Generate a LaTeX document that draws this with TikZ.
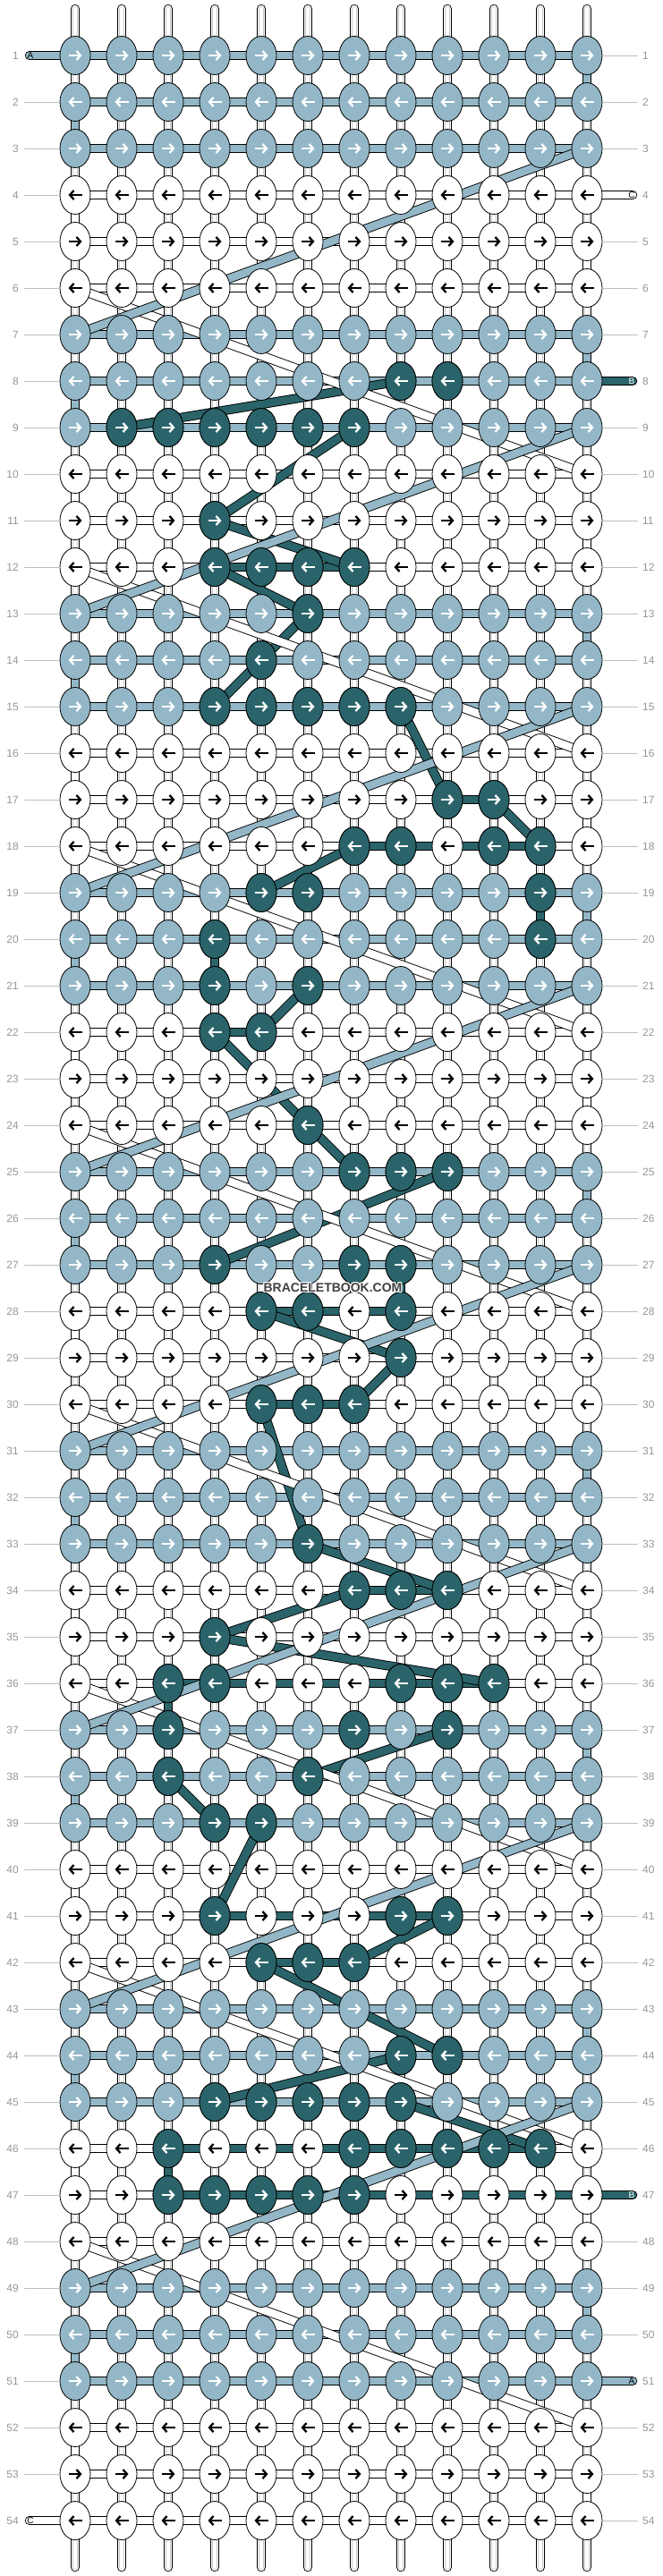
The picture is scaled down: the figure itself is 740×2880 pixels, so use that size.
\documentclass[tikz,border=0pt]{standalone}
\usepackage{fontspec}
\setsansfont{Liberation Sans}
\usetikzlibrary{shapes.geometric,arrows.meta}
\definecolor{threadA}{RGB}{147,183,199}
\definecolor{threadB}{RGB}{42,100,106}
\definecolor{numgray}{RGB}{150,150,150}
\definecolor{linegray}{RGB}{190,190,190}
\pgfdeclarelayer{tubes}
\pgfdeclarelayer{bars}
\pgfdeclarelayer{floats}
\pgfsetlayers{tubes,bars,floats,main}
\newcommand{\knotdir}[3]{%
  \pgfmathtruncatemacro\kd{mod(#1,2)}%
  \ifnum\kd=1
    \draw[knotarrow,#3] ([xshift=-7.5pt]k-#1-#2.center) -- ([xshift=7.5pt]k-#1-#2.center);
  \else
    \draw[knotarrow,#3] ([xshift=7.5pt]k-#1-#2.center) -- ([xshift=-7.5pt]k-#1-#2.center);
  \fi}

\begin{document}
\begin{tikzpicture}[x=1pt,y=-1pt,
  knot/.style={ellipse,draw=black,line width=0.8pt,minimum width=34pt,minimum height=43pt,inner sep=0pt},
  knotarrow/.style={line width=2.3pt,-{Straight Barb[length=4.5pt,width=10pt]}},
  thread/.style={line width=10.5pt,draw=black,postaction={draw=#1,line width=8.7pt}},
  tube/.style={line width=10.5pt,draw=black,line cap=round,postaction={draw=white,line width=8.7pt},postaction={draw=black!22,line width=5.6pt},postaction={draw=white,line width=4.2pt}},
  num/.style={font=\sffamily\fontsize{12}{12}\selectfont,text=numgray,inner sep=0pt},
  rowline/.style={draw=linegray,line width=0.9pt},
  tabtext/.style={font=\sffamily\fontsize{10}{10}\selectfont,inner sep=0pt},
  brand/.style={font=\sffamily\bfseries\fontsize{14}{14}\selectfont,inner sep=0pt}]
\useasboundingbox (0,0) rectangle (740,2880);

\foreach \r in {1,...,54}{
  \pgfmathtruncatemacro\blk{mod(div(\r-1,3),2)}
  \ifnum\blk=0 \def\kc{threadA}\def\ac{white}\else\def\kc{white}\def\ac{black}\fi
  \foreach \c in {1,...,12}{
    \node[knot,fill=\kc] (k-\r-\c) at ({84+52*(\c-1)},{62+52*(\r-1)}) {};
    \knotdir{\r}{\c}{\ac}
  }
  \node[num,anchor=east] (ln-\r) at (21,{62+52*(\r-1)}) {\r};
  \node[num,anchor=west] (rn-\r) at (718,{62+52*(\r-1)}) {\r};
}

\foreach \r/\cs in {8/{8,9},9/{2,3,4,5,6,7},11/{4},12/{4,5,6,7},13/{6},14/{5},15/{4,5,6,7,8},
    17/{9,10},18/{7,8,10,11},19/{5,6,11},20/{4,11},21/{4,6},22/{4,5},24/{6},25/{7,8,9},
    27/{4,7,8},28/{5,6,8},29/{8},30/{5,6,7},33/{6},34/{7,8,9},35/{4},36/{3,4,8,9,10},
    37/{3,7,9},38/{3,6},39/{4,5},41/{4,8,9},42/{5,6,7},44/{8,9},45/{4,5,6,7,8},
    46/{3,7,8,9,10,11},47/{3,4,5,6,7}}{
  \foreach \c in \cs{
    \node[knot,fill=threadB] (k-\r-\c) at (k-\r-\c.center) {};
    \knotdir{\r}{\c}{white}
  }
}

\foreach \r in {2,...,53}
  \draw[rowline] ([xshift=6pt]ln-\r.east) -- (k-\r-1.west);
\foreach \r in {1,2,3,5,6,7,9,10,...,46,48,49,50,52,53,54}
  \draw[rowline] (k-\r-12.east) -- ([xshift=-5pt]rn-\r.west);

\node[tabtext] (tab-a1) at (34,62) {A};
\node[tabtext] (tab-c4) at (706,218) {C};
\node[tabtext,text=white] (tab-b8) at (706,426) {B};
\node[tabtext,text=white] (tab-b47) at (706,2454) {B};
\node[tabtext] (tab-a51) at (706,2662) {A};
\node[tabtext] (tab-c54) at (34,2818) {C};
\coordinate (end-a1) at (33,62);
\coordinate (end-c4) at (707,218);
\coordinate (end-b8) at (707,426);
\coordinate (end-b47) at (707,2454);
\coordinate (end-a51) at (707,2662);
\coordinate (end-c54) at (33,2818);

\begin{pgfonlayer}{tubes}
\foreach \c in {1,...,12}{
  \coordinate (top-\c) at ({84+52*(\c-1)},10);
  \coordinate (bot-\c) at ({84+52*(\c-1)},2870);
  \draw[tube] (top-\c) -- (bot-\c);
}
\end{pgfonlayer}

\begin{pgfonlayer}{bars}
\foreach \r in {1,...,54}{
  \pgfmathtruncatemacro\blk{mod(div(\r-1,3),2)}
  \ifnum\blk=0 \def\kc{threadA}\else\def\kc{white}\fi
  \draw[thread=\kc] (k-\r-1.center) -- (k-\r-12.center);
}
\foreach \b in {0,...,8}{
  \pgfmathtruncatemacro\rowa{6*\b+1}
  \pgfmathtruncatemacro\rowb{6*\b+2}
  \pgfmathtruncatemacro\rowc{6*\b+3}
  \pgfmathtruncatemacro\rowd{6*\b+4}
  \pgfmathtruncatemacro\rowe{6*\b+5}
  \pgfmathtruncatemacro\rowf{6*\b+6}
  \draw[thread=threadA] (k-\rowa-12.center) -- (k-\rowb-12.center);
  \draw[thread=threadA] (k-\rowb-1.center) -- (k-\rowc-1.center);
  \draw[thread=white] (k-\rowd-1.center) -- (k-\rowe-1.center);
  \draw[thread=white] (k-\rowe-12.center) -- (k-\rowf-12.center);
}
\foreach \r/\ca/\cb in {12/4/7,17/9/10,18/7/11,22/4/5,28/5/8,30/5/7,34/7/9,36/3/10,41/4/9,42/5/7,46/3/11,47/3/12}
  \draw[thread=threadB] (k-\r-\ca.center) -- (k-\r-\cb.center);
\foreach \r/\c in {19/11,20/4,27/8,36/3,46/3}{
  \pgfmathtruncatemacro\rn{\r+1}
  \draw[thread=threadB] (k-\r-\c.center) -- (k-\rn-\c.center);
}
\draw[thread=threadA,line cap=round] (end-a1) -- (k-1-1.center);
\draw[thread=white,line cap=round] (end-c4) -- (k-4-12.center);
\draw[thread=threadB,line cap=round] (end-b8) -- (k-8-12.center);
\draw[thread=threadB,line cap=round] (end-b47) -- (k-47-12.center);
\draw[thread=threadA,line cap=round] (end-a51) -- (k-51-12.center);
\draw[thread=white,line cap=round] (end-c54) -- (k-54-1.center);
\end{pgfonlayer}

\begin{pgfonlayer}{floats}
\foreach \ra/\ca/\rb/\cb in {8/8/9/2,9/7/11/4,11/4/12/7,12/4/13/6,13/6/14/5,14/5/15/4,15/8/17/9,
    17/10/18/11,18/7/19/5,21/6/22/5,22/4/24/6,24/6/25/7,25/9/27/4,28/5/29/8,29/8/30/7,30/5/33/6,
    33/6/34/9,34/7/35/4,35/4/36/10,37/9/38/6,38/3/39/4,39/5/41/4,41/9/42/7,42/5/44/9,44/8/45/4,45/8/46/11}
  \draw[thread=threadB] (k-\ra-\ca.center) -- (k-\rb-\cb.center);
\foreach \b in {0,...,7}{
  \pgfmathtruncatemacro\rowa{6*\b+6}
  \pgfmathtruncatemacro\rowb{6*\b+10}
  \draw[thread=white] (k-\rowa-1.center) -- (k-\rowb-12.center);
}
\foreach \b in {0,...,7}{
  \pgfmathtruncatemacro\rowa{6*\b+3}
  \pgfmathtruncatemacro\rowb{6*\b+7}
  \draw[thread=threadA] (k-\rowa-12.center) -- (k-\rowb-1.center);
}
\end{pgfonlayer}

\foreach \dx/\dy in {-1/0,1/0,0/-1,0/1,-1/-1,1/1,-1/1,1/-1}
  \node[brand,text=white] (halo) at ({372+\dx},{1440+\dy}) {BRACELETBOOK.COM};
\node[brand,text=black!75] (brand) at (372,1440) {BRACELETBOOK.COM};
\end{tikzpicture}
\end{document}
